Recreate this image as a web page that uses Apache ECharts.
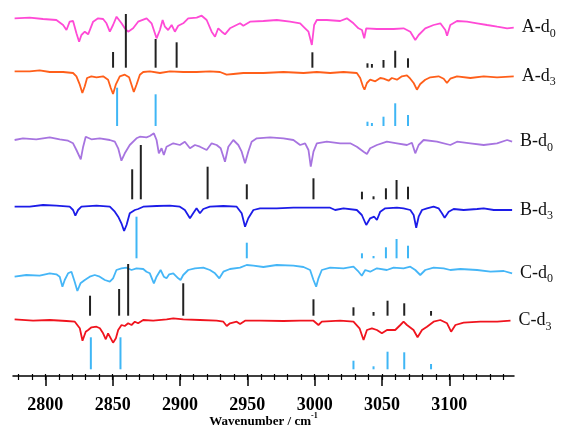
<!DOCTYPE html>
<html><head><meta charset="utf-8">
<script src="https://cdn.jsdelivr.net/npm/echarts@6/dist/echarts.min.js"></script>
<style>html,body{margin:0;padding:0;background:#fff}#c{width:563px;height:427px}</style>
</head><body><div id="c"></div>
<script>
// ---------------- DATA ----------------
const traceNames = ['A-d0','A-d3','B-d0','B-d3','C-d0','C-d3'];
const tickLabels = [2800,2850,2900,2950,3000,3050,3100];
const minorTicks = [2780,2790,2800,2810,2820,2830,2840,2850,2860,2870,2880,2890,2900,2910,2920,2930,2940,2950,2960,2970,2980,2990,3000,3010,3020,3030,3040,3050,3060,3070,3080,3090,3100,3110,3120,3130,3140];

// measured spectra: [wavenumber, relative transmittance (a.u.)]
const specAd0 = [[2777.2,-0.3],[2788.4,0.3],[2798.3,-1],[2808.2,-2],[2813.2,-7],[2815.7,-12],[2818.1,-3.7],[2820.6,-3],[2823.1,-15.3],[2825.1,-23.7],[2826.8,-17],[2829.3,-13.7],[2831.8,-16.3],[2835.5,-3.7],[2839.2,-0.3],[2842.9,-1],[2845.4,-5.3],[2847.9,-13.7],[2850.3,-7],[2852.9,1.3],[2856.6,-5.3],[2859.0,-10.3],[2861.5,-13.7],[2865.2,-10.3],[2868.9,-3.7],[2875.2,-0.3],[2878.9,-5.3],[2882.6,-20.3],[2885.1,-12],[2887.1,-2],[2888.8,-8.7],[2891.2,-12],[2893.8,-7],[2896.2,-13.7],[2898.7,-7.7],[2902.4,-5.3],[2906.1,-0.3],[2912.4,0.3],[2916.1,2.3],[2919.8,-2],[2923.5,-13.7],[2926.0,-18.7],[2928.4,-10.3],[2931.0,-13.7],[2933.4,-16.3],[2937.1,-10.3],[2944.6,-5.3],[2947.0,-7.7],[2952.0,-3.7],[2961.9,-3],[2971.9,-2],[2981.7,-3.7],[2989.2,-5.3],[2992.9,-10.3],[2995.4,-13.7],[2997.9,-27],[2999.6,-7],[3001.6,-2],[3009.0,-2],[3018.9,-3],[3023.9,-0.3],[3028.8,-5.3],[3032.5,-10.3],[3035.1,-12],[3036.8,-20.3],[3038.3,-10.3],[3046.2,-11],[3058.6,-11],[3066.0,-10.3],[3071.0,-13.7],[3074.7,-22],[3077.2,-17],[3082.1,-10.3],[3088.3,-7],[3093.3,-5.3],[3097.0,-12],[3098.3,-17.7],[3100.7,-7],[3105.7,-3],[3113.1,-3.7],[3120.6,-5.3],[3128.0,-7],[3135.5,-8.7],[3142.9,-10.3],[3147.8,-9.7]];
const specAd3 = [[2777.2,0],[2788.4,0],[2795.8,1],[2803.3,-0.7],[2813.2,-0.7],[2820.6,-1.7],[2823.1,-5],[2825.6,-13.4],[2827.5,-21.7],[2829.3,-15],[2831.0,-6.7],[2834.2,-5],[2838.0,-6],[2842.9,-5],[2846.6,-8.4],[2848.6,-16.7],[2850.3,-22.7],[2852.3,-13.4],[2855.3,-5],[2859.0,-3.4],[2862.2,-6],[2864.0,-13.4],[2865.7,-20.7],[2867.7,-13.4],[2870.2,-3.4],[2872.7,-0.7],[2877.6,0],[2885.1,-1.7],[2892.5,0],[2902.4,-0.7],[2912.3,-0.7],[2922.2,0],[2929.7,-0.7],[2934.6,-3.4],[2939.6,-2.7],[2947.0,-1.7],[2961.9,-1.7],[2976.8,-0.7],[2991.7,-1.7],[3001.6,-0.7],[3011.5,-1.7],[3021.4,-0.7],[3031.3,-1.7],[3033.8,-6.7],[3035.8,-15],[3037.0,-18.4],[3038.8,-11.7],[3041.2,-8.4],[3045.0,-10],[3048.7,-6.7],[3051.2,-7.4],[3054.9,-9.4],[3057.3,-6.7],[3061.1,-8.4],[3064.8,-5],[3068.5,-4],[3071.0,-7.4],[3073.5,-11.7],[3075.9,-18.4],[3078.4,-12.7],[3082.1,-8.4],[3085.9,-6],[3092.0,-5],[3095.8,-7.4],[3098.2,-11.7],[3100.7,-7.4],[3105.7,-5],[3115.6,-6.7],[3125.5,-5],[3135.4,-6],[3147.8,-5]];
const specBd0 = [[2777.2,-0.7],[2783.4,1],[2793.3,0],[2803.3,2],[2810.7,0],[2816.9,-1.4],[2820.6,-4],[2823.1,-10.7],[2826.3,-20],[2828.1,-7.4],[2830.0,2.6],[2834.2,0],[2840.4,1],[2847.9,-0.7],[2851.6,-2.4],[2854.1,-9],[2856.5,-21.4],[2859.0,-14],[2862.7,-5.7],[2867.7,1],[2870.2,2.6],[2875.1,2],[2877.6,3.3],[2880.6,6],[2882.6,-0.7],[2884.3,-14],[2886.3,-9],[2888.0,-15.7],[2890.0,-7.4],[2895.0,-4],[2899.9,-5.7],[2903.6,-2.4],[2907.4,-9],[2911.1,-5.7],[2914.8,-7.4],[2919.8,-10.7],[2923.5,-4],[2927.2,-5.7],[2930.2,-9],[2933.4,-22.4],[2935.9,-7.4],[2939.6,-0.7],[2943.3,-5.7],[2945.8,-12.4],[2948.3,-24],[2950.7,-12.4],[2953.2,-2.4],[2957.0,1],[2966.9,2],[2976.8,1],[2984.2,-0.7],[2989.2,-5.7],[2992.9,-4],[2995.4,-10.7],[2997.1,-27.4],[2999.1,-12.4],[3001.6,-4],[3009.0,-2.4],[3018.9,-4],[3026.4,-4],[3031.3,-7.4],[3036.3,-12.4],[3038.8,-14.7],[3041.2,-9],[3046.2,-5.7],[3053.6,-2.4],[3061.1,-4],[3068.5,-5.7],[3072.2,-3.4],[3074.7,-14],[3077.2,-5.7],[3080.9,-0.7],[3090.8,-2.4],[3100.7,-5.7],[3105.7,-2.4],[3115.6,-4],[3125.5,-5.7],[3135.4,-4],[3142.9,-0.7],[3146.6,-2.4]];
const specBd3 = [[2777.2,-0.7],[2788.4,-0.7],[2798.3,1],[2808.2,0.3],[2818.1,-0.7],[2820.6,-4],[2822.3,-9.7],[2824.3,-4],[2826.8,-0.7],[2838.0,0.3],[2847.9,-0.7],[2851.6,-5.7],[2854.1,-10.7],[2856.5,-17.3],[2858.5,-25],[2860.3,-19],[2862.7,-7.3],[2866.5,-4],[2868.9,-3],[2872.7,-0.7],[2882.6,0],[2892.5,0.3],[2899.9,-0.7],[2903.6,-4],[2907.4,-12.3],[2909.8,-7.3],[2912.3,-2.3],[2914.8,-7.3],[2917.3,-3],[2922.2,-0.7],[2932.2,0],[2942.1,-0.7],[2945.8,-7.3],[2948.3,-20.7],[2950.7,-12.3],[2954.5,-4],[2959.4,-2.3],[2971.8,-2.3],[2984.2,-1.7],[2996.6,-1.7],[3011.5,-1.7],[3015.2,-4],[3021.4,-2.3],[3031.3,-4],[3035.0,-9],[3038.3,-19],[3041.2,-12.3],[3044.2,-10.7],[3046.2,-14],[3048.7,-5.7],[3052.4,-2.3],[3061.1,-1.7],[3066.0,-2.3],[3071.0,-4],[3073.5,-9],[3075.4,-21.7],[3077.2,-10.7],[3079.7,-4],[3083.4,-2.3],[3088.3,-0.7],[3092.0,-2.3],[3094.5,-7.3],[3096.5,-11.7],[3099.5,-5.7],[3103.2,-3],[3110.6,-4],[3120.6,-3],[3125.5,-2.3],[3133.0,-4],[3140.4,-4],[3146.6,-4]];
const specCd0 = [[2777.2,-4.7],[2785.9,-3],[2795.8,-3.7],[2803.3,-1.3],[2808.2,-2.3],[2810.7,-4.7],[2812.7,-14.7],[2814.4,-8],[2816.9,-1.3],[2819.4,0.3],[2821.8,-9.7],[2823.8,-19],[2826.1,-11.3],[2829.3,-8],[2833.0,-4.7],[2836.7,-3],[2840.4,-4.7],[2844.2,-8],[2847.9,-9.7],[2850.3,-6.3],[2852.8,2],[2856.5,3.7],[2860.3,4.3],[2864.0,2],[2867.7,3.7],[2872.7,3],[2875.1,0.3],[2877.6,-1.3],[2880.6,-11.3],[2882.6,-4.7],[2885.6,2],[2888.0,-4.7],[2890.0,-6.3],[2892.0,-2.3],[2895.0,-1.3],[2898.7,-6.3],[2900.4,-8],[2902.4,-3],[2906.1,2],[2911.1,3.7],[2917.3,4.3],[2922.2,2],[2926.0,-1.3],[2929.2,-6.3],[2932.2,0.3],[2937.1,3],[2944.6,4.3],[2949.5,7],[2954.5,6.3],[2961.9,5],[2971.8,7],[2984.2,6.3],[2991.7,5],[2996.6,2],[2999.1,-8],[3001.1,-14.7],[3002.8,-6.3],[3005.3,2],[3011.5,4.3],[3021.4,3.7],[3028.8,5.3],[3032.6,0.3],[3035.0,-3.7],[3037.5,2],[3041.2,0.3],[3046.2,3.7],[3053.6,2],[3058.6,4.3],[3066.0,3.7],[3071.0,5.3],[3074.7,2],[3078.4,-3],[3082.1,2],[3088.3,4.3],[3095.8,3.7],[3100.7,2],[3108.2,3],[3120.6,2],[3130.5,0.3],[3140.4,1],[3146.6,-1.3]];
const specCd3 = [[2777.2,0.7],[2790.9,-0.7],[2803.3,0],[2815.7,-1],[2821.9,-1.7],[2825.6,-8.3],[2827.6,-20.7],[2830.0,-11.7],[2831.8,-10],[2834.3,-7.3],[2838.0,-6.7],[2840.5,-8.3],[2842.9,-13.3],[2844.9,-19.3],[2846.6,-13.3],[2847.9,-11.7],[2850.3,-22.7],[2852.4,-18.3],[2854.1,-10],[2856.6,-5],[2859.0,-6],[2861.5,-3.3],[2864.0,-5],[2866.5,-1.7],[2868.9,-3.3],[2872.7,0],[2880.1,-0.7],[2890.1,0.7],[2895.0,1.7],[2902.4,0.7],[2914.8,0],[2927.2,-0.7],[2932.2,-1.7],[2934.7,-6],[2937.1,-3.3],[2942.1,-1.7],[2944.6,-4],[2948.3,-0.7],[2959.4,-0.7],[2976.8,-1],[2989.2,-0.7],[2999.1,-0.7],[3002.8,-5],[3005.3,-1.7],[3018.9,-0.7],[3028.8,-1.7],[3033.3,-8.3],[3036.3,-20],[3038.8,-10],[3042.5,-8.3],[3046.2,-10],[3049.9,-13.3],[3053.7,-10],[3059.8,-10],[3063.6,-5],[3066.0,-1.7],[3068.5,-5],[3073.4,-10],[3076.4,-17.3],[3079.7,-10],[3083.4,-6.7],[3088.3,-1.7],[3093.3,0],[3098.3,-3.3],[3101.3,-11.7],[3104.5,-5],[3110.6,-2.7],[3123.0,-1.7],[3135.5,-1.7],[3145.4,-0.7]];

// calculated stick spectra (wavenumber, intensity)
const calcA_d0_wn = [2850.3,2859.8,2881.9,2897.5,2998.3,3039.2,3042.5,3051.1,3059.8,3069.3];
const calcA_d0_I  = [15.7,53.7,28.7,25.4,15.4,4.4,3.7,7.7,17,9.4];
const calcA_d3_wn = [2853.3,2881.9,3039.2,3042.5,3051.1,3059.8,3069.3];
const calcA_d3_I  = [38.3,31.7,4.3,3,9.3,22.7,11];
const calcB_d0_wn = [2864.5,2870.9,2920.5,2949.6,2999.1,3035.1,3043.7,3052.9,3060.8,3069.3];
const calcB_d0_I  = [30,54.3,32.6,15,21,7.6,3,11,19.3,12.6];
const calcB_d3_wn = [2867.7,2949.6,3035.1,3043.7,3052.9,3060.8,3069.3];
const calcB_d3_I  = [41.6,15.6,5,2.3,11,19.3,12.6];
const calcC_d0_wn = [2833.2,2854.8,2861.5,2902.4,2999.1,3028.8,3043.7,3054.1,3066.5,3086.4];
const calcC_d0_I  = [20,26.7,51.7,32.4,16.4,8.4,3.7,15,12.4,4.7];
const calcC_d3_wn = [2833.8,2855.8,3028.8,3043.7,3054.1,3066.5,3086.4];
const calcC_d3_I  = [32,32,8.6,3,17.6,17,5.3];

// ---------------- LAYOUT / STYLE ----------------
const traceOffset = [358, 304.7, 236.7, 170, 104, 56];
const traceColor = ['#ff4ad6','#ff5f1a','#a774e0','#1c1ce8','#45b6f7','#f0141e'];
const stickSets = [
  [calcA_d0_wn, calcA_d0_I, 308.3, '#222222'],
  [calcA_d3_wn, calcA_d3_I, 250,   '#3fb6f5'],
  [calcB_d0_wn, calcB_d0_I, 176.7, '#222222'],
  [calcB_d3_wn, calcB_d3_I, 117.7, '#3fb6f5'],
  [calcC_d0_wn, calcC_d0_I, 60.3,  '#222222'],
  [calcC_d3_wn, calcC_d3_I, 6.7,   '#3fb6f5']
];
const spectra = [specAd0, specAd3, specBd0, specBd3, specCd0, specCd3];
const SERIF = '"Liberation Serif","Times New Roman",serif';

const series = [];
spectra.forEach((sp, i) => {
  series.push({
    type: 'line', name: traceNames[i], xAxisIndex: 0, yAxisIndex: 0,
    data: sp.map(p => [p[0], traceOffset[i] + p[1]]),
    showSymbol: false, symbol: 'none', silent: true, animation: false,
    lineStyle: { color: traceColor[i], width: 1.8 },
    endLabel: {
      show: true, distance: 8,
      formatter: p => { const n = p.seriesName; return '{m|' + n.slice(0, -1) + '}{s|' + n.slice(-1) + '}'; },
      rich: {
        m: { fontFamily: SERIF, fontSize: 18, color: '#111', lineHeight: 24, verticalAlign: 'middle' },
        s: { fontFamily: SERIF, fontSize: 12, color: '#111', lineHeight: 14, verticalAlign: 'bottom' }
      }
    },
    z: 2
  });
});
stickSets.forEach(([wns, hs, base, color]) => {
  series.push({
    type: 'custom', xAxisIndex: 0, yAxisIndex: 0, silent: true, animation: false, z: 3,
    data: wns.map((w, k) => [w, base, hs[k]]),
    encode: { x: 0, y: 1 },
    renderItem: (params, api) => {
      const p0 = api.coord([api.value(0), api.value(1)]);
      const p1 = api.coord([api.value(0), api.value(1) + api.value(2)]);
      return { type: 'line', shape: { x1: p0[0], y1: p0[1], x2: p1[0], y2: p1[1] }, style: { stroke: color, lineWidth: 2 } };
    }
  });
});

const chart = echarts.init(document.getElementById('c'), null, { renderer: 'canvas' });
const xBase = { type: 'value', min: 2776, max: 3148, gridIndex: 0, position: 'bottom', splitLine: { show: false } };
chart.setOption({
  animation: false,
  backgroundColor: '#fff',
  grid: { left: 13, right: 49, top: 0, bottom: 51, containLabel: false, outerBoundsMode: 'none' },
  xAxis: [
    Object.assign({}, xBase, {
      axisLine: { show: true, lineStyle: { color: '#000', width: 1.5 } },
      axisTick: { show: true, customValues: tickLabels, length: 10, lineStyle: { color: '#000', width: 1.5 } },
      axisLabel: { show: true, customValues: tickLabels, formatter: v => String(v), margin: 20, color: '#000', fontFamily: SERIF, fontWeight: 'bold', fontSize: 18 },
      name: '{t|Wavenumber / cm}{u|-1}', nameLocation: 'middle', nameGap: 36, nameMoveOverlap: false,
      nameTextStyle: { rich: {
        t: { fontFamily: SERIF, fontWeight: 'bold', fontSize: 13, color: '#000', lineHeight: 16, verticalAlign: 'bottom' },
        u: { fontFamily: SERIF, fontWeight: 'bold', fontSize: 8, color: '#000', lineHeight: 16, verticalAlign: 'top' }
      } }
    }),
    Object.assign({}, xBase, {
      axisLine: { show: false },
      axisTick: { show: true, customValues: minorTicks, length: 4, lineStyle: { color: '#000', width: 1.2 } },
      axisLabel: { show: false }
    }),
    Object.assign({}, xBase, {
      axisLine: { show: false },
      axisTick: { show: true, inside: true, customValues: minorTicks, length: 2, lineStyle: { color: '#000', width: 1.2 } },
      axisLabel: { show: false }
    })
  ],
  yAxis: [{ type: 'value', min: 0, max: 376, show: false, splitLine: { show: false } }],
  series: series
});
</script>
</body></html>
